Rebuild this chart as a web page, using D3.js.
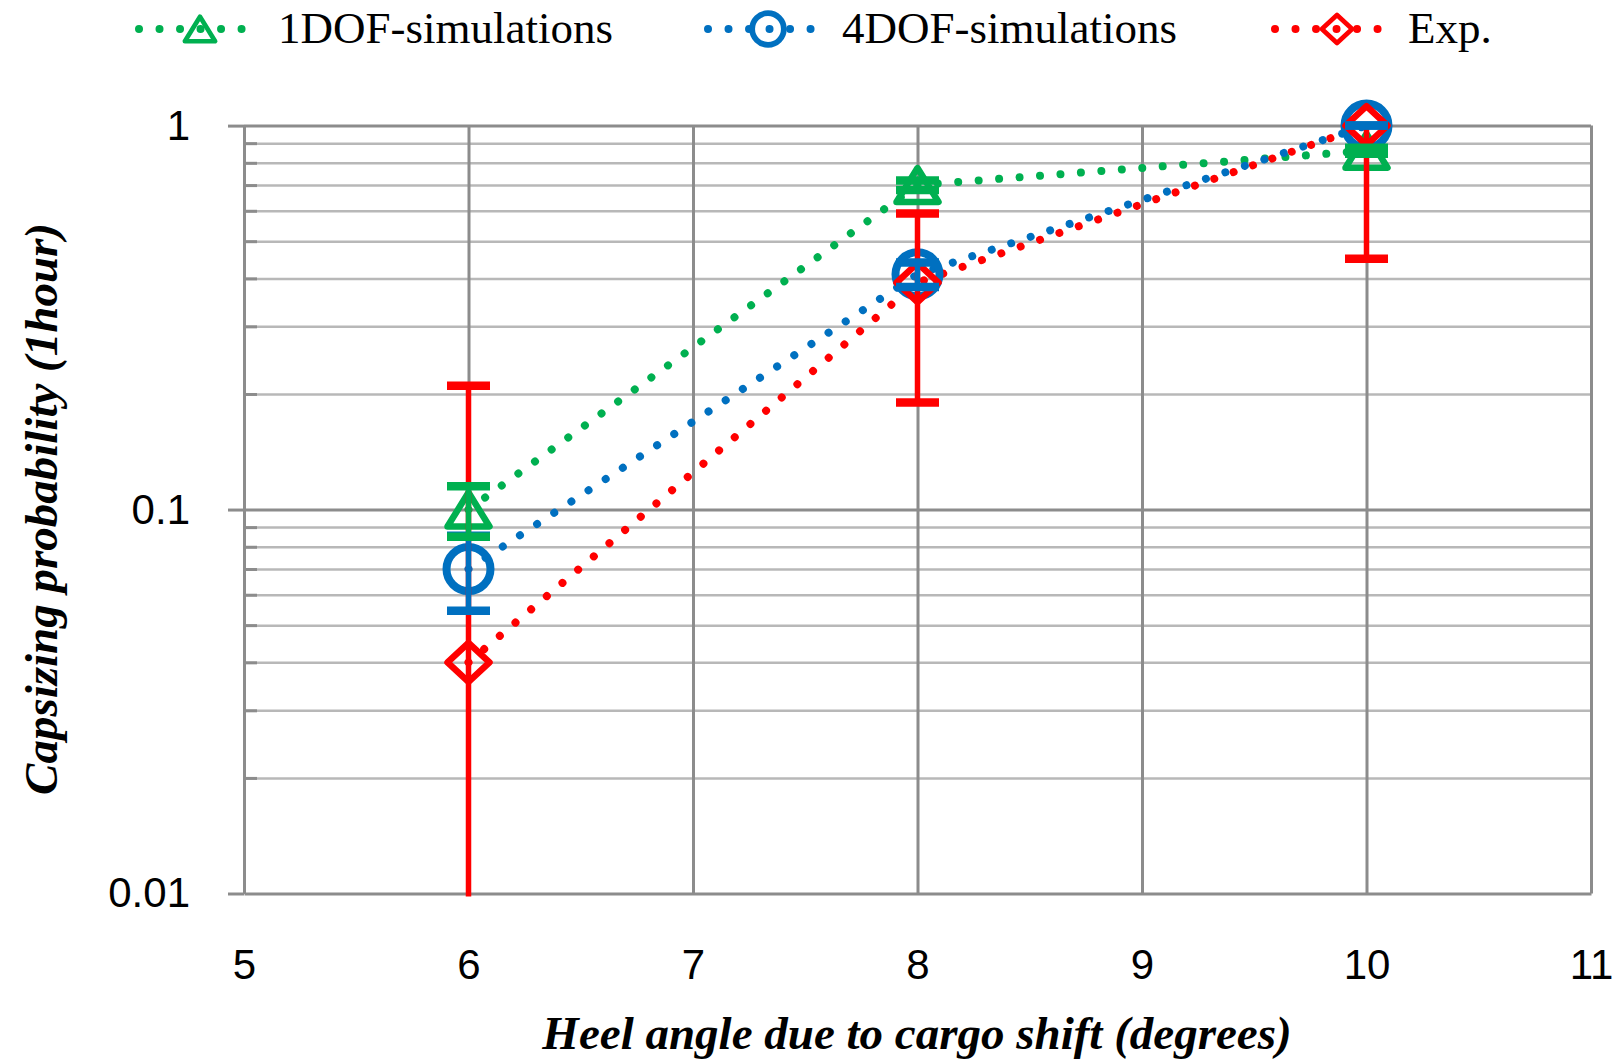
<!DOCTYPE html>
<html lang="en">
<head>
<meta charset="UTF-8">
<title>Capsizing probability</title>
<script src="https://cdnjs.cloudflare.com/ajax/libs/d3/7.8.5/d3.min.js"></script>
<style>
    body { margin: 0; background: #fff; }
    .tick text { font-family: "Liberation Sans", Arial, sans-serif; font-size: 42px; fill: #000; }
</style>
</head>
<body>
<div id="plot"></div>
<script>
// values
var heelAngles = [6, 8, 10];
var sim1dof = [0.1, 0.7, 0.86];
var sim1dofErr = [0.015, 0.02, 0.015];
var sim4dof = [0.07, 0.41, 1.0];
var sim4dofErr = [0.0155, 0.03, 0];
var expProb = [0.04, 0.39, 1.0];
var expErr = [0.17, 0.2, 0.55];
var xTicks = [5, 6, 7, 8, 9, 10, 11];
var yTicks = [0.01, 0.1, 1];
var seriesNames = ["1DOF-simulations", "4DOF-simulations", "Exp."];

var W = 1614, H = 1063;
var margin = { top: 125.6, right: 23, bottom: 169.5, left: 244 },
    width = W - margin.left - margin.right,
    height = H - margin.top - margin.bottom;

var series = [
    { name: seriesNames[0], vals: sim1dof, errs: sim1dofErr, color: "#00B050", marker: "tri" },
    { name: seriesNames[1], vals: sim4dof, errs: sim4dofErr, color: "#0070C0", marker: "circ" },
    { name: seriesNames[2], vals: expProb, errs: expErr, color: "#FF0000", marker: "dia" }
];

var svg = d3.select("#plot").append("svg")
    .attr("width", W).attr("height", H)
    .style("display", "block");

var g = svg.append("g")
    .attr("transform", "translate(" + margin.left + "," + margin.top + ")");

var x = d3.scaleLinear().domain([5, 11]).range([0, width]);
var y = d3.scaleLog().domain([0.01, 1]).range([height, 0]);

var minorVals = [];
[0.01, 0.1].forEach(function (d) {
    for (var k = 2; k <= 9; k++) minorVals.push(+(d * k).toFixed(3));
});

// minor horizontal grid
g.append("g")
    .call(d3.axisLeft(y).tickValues(minorVals).tickSize(-width).tickFormat(""))
    .call(function (s) {
        s.select(".domain").remove();
        s.selectAll("line").attr("stroke", "#b8b8b8").attr("stroke-width", 2.5);
    });
// minor tick marks on the inside of the axis
g.append("g")
    .call(d3.axisRight(y).tickValues(minorVals).tickSize(13).tickFormat(""))
    .call(function (s) {
        s.select(".domain").remove();
        s.selectAll("line").attr("stroke", "#8c8c8c").attr("stroke-width", 3);
    });
// major horizontal grid
g.append("g")
    .call(d3.axisLeft(y).tickValues([0.1, 1]).tickSize(-width).tickFormat(""))
    .call(function (s) {
        s.select(".domain").remove();
        s.selectAll("line").attr("stroke", "#8c8c8c").attr("stroke-width", 3);
    });
// vertical grid
g.append("g")
    .attr("transform", "translate(0," + height + ")")
    .call(d3.axisBottom(x).tickValues(xTicks.slice(1)).tickSize(-height).tickFormat(""))
    .call(function (s) {
        s.select(".domain").remove();
        s.selectAll("line").attr("stroke", "#8c8c8c").attr("stroke-width", 3);
    });

// axes
g.append("g")
    .attr("transform", "translate(0," + height + ")")
    .call(d3.axisBottom(x).tickValues(xTicks).tickSize(0).tickPadding(56).tickFormat(d3.format("d")))
    .call(function (s) {
        s.select(".domain").attr("stroke", "#8c8c8c").attr("stroke-width", 3);
    });
g.append("g")
    .call(d3.axisLeft(y).tickValues(yTicks).tickSizeInner(16).tickSizeOuter(0).tickPadding(38)
        .tickFormat(function (d) { return d === 1 ? "1" : String(d); }))
    .call(function (s) {
        s.select(".domain").attr("stroke", "#8c8c8c").attr("stroke-width", 3);
        s.selectAll("line").attr("stroke", "#8c8c8c").attr("stroke-width", 3);
    });

// marker shapes
function markerPath(type, s) {
    if (type === "tri") return "M0," + (-17 * s) + "L" + (21 * s) + "," + (17 * s) + "L" + (-21 * s) + "," + (17 * s) + "Z";
    if (type === "dia") return "M0," + (-19.5 * s) + "L" + (21 * s) + ",0L0," + (19.5 * s) + "L" + (-21 * s) + ",0Z";
    return null;
}
function drawMarker(sel, type, color, cx, cy, s) {
    if (type === "circ") {
        sel.append("circle").attr("cx", cx).attr("cy", cy).attr("r", 22 * s)
            .attr("fill", "none").attr("stroke", color).attr("stroke-width", 8 * s);
    } else {
        sel.append("path").attr("d", markerPath(type, s))
            .attr("transform", "translate(" + cx + "," + cy + ")")
            .attr("fill", "none").attr("stroke", color).attr("stroke-width", 6.5 * s)
            .attr("stroke-linejoin", "round");
    }
}

var line = d3.line()
    .x(function (d) { return x(d[0]); })
    .y(function (d) { return y(d[1]); })
    .curve(d3.curveLinear);

// dotted lines
series.forEach(function (sr) {
    var pts = heelAngles.map(function (a, i) { return [a, sr.vals[i]]; });
    g.append("path")
        .datum(pts)
        .attr("d", line)
        .attr("fill", "none")
        .attr("stroke", sr.color)
        .attr("stroke-width", 8)
        .attr("stroke-linecap", "round")
        .attr("stroke-dasharray", "0.01 20.5");
});

// markers
series.forEach(function (sr) {
    var mg = g.append("g");
    heelAngles.forEach(function (a, i) {
        drawMarker(mg, sr.marker, sr.color, x(a), y(sr.vals[i]), 1);
    });
});

// error bars (drawn over the markers, red first)
series.slice().reverse().forEach(function (sr) {
    var eg = g.append("g");
    heelAngles.forEach(function (a, i) {
        var v = sr.vals[i], e = sr.errs[i];
        var lo = v - e, hi = v + e;
        var yLo = lo > 0.01 ? y(lo) : height + 3;
        var yHi = hi <= 1 ? y(hi) : 0;
        eg.append("line")
            .attr("x1", x(a)).attr("x2", x(a))
            .attr("y1", yLo).attr("y2", yHi)
            .attr("stroke", sr.color).attr("stroke-width", 5.5);
        [lo, hi].forEach(function (c) {
            if (c >= 0.01 && c <= 1) {
                eg.append("line")
                    .attr("x1", x(a) - 21.5).attr("x2", x(a) + 21.5)
                    .attr("y1", y(c)).attr("y2", y(c))
                    .attr("stroke", sr.color).attr("stroke-width", 8.5);
            }
        });
    });
});

// legend
var legendPos = [
    { x1: 139, x2: 247, mx: 200, tx: 278 },
    { x1: 708, x2: 814, mx: 768, tx: 842 },
    { x1: 1275, x2: 1381, mx: 1337, tx: 1408 }
];
var lg = svg.append("g");
series.forEach(function (sr, i) {
    var p = legendPos[i];
    lg.append("line")
        .attr("x1", p.x1).attr("x2", p.x2).attr("y1", 29).attr("y2", 29)
        .attr("stroke", sr.color).attr("stroke-width", 8)
        .attr("stroke-linecap", "round").attr("stroke-dasharray", "0.01 20.5");
    drawMarker(lg, sr.marker, sr.color, p.mx, 29, 0.72);
    lg.append("text")
        .attr("x", p.tx).attr("y", 43)
        .style("font-family", "'Liberation Serif', 'Times New Roman', serif")
        .style("font-size", "45px")
        .text(sr.name);
});

// axis titles
svg.append("text")
    .attr("transform", "translate(41,509) rotate(-90)")
    .attr("text-anchor", "middle")
    .attr("dominant-baseline", "central")
    .style("font-family", "'Liberation Serif', 'Times New Roman', serif")
    .style("font-size", "47px").style("font-weight", "bold").style("font-style", "italic")
    .text("Capsizing probability (1hour)");
svg.append("text")
    .attr("x", 917).attr("y", 1049)
    .attr("text-anchor", "middle")
    .style("font-family", "'Liberation Serif', 'Times New Roman', serif")
    .style("font-size", "47px").style("font-weight", "bold").style("font-style", "italic")
    .text("Heel angle due to cargo shift (degrees)");
</script>
</body>
</html>
